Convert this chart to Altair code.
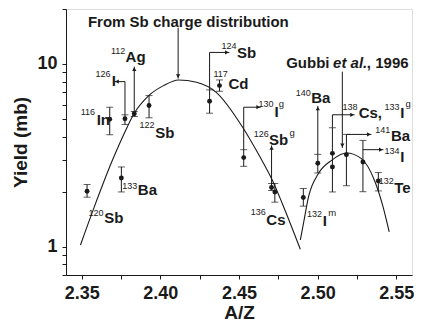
import altair as alt
import pandas as pd

FONT = "Liberation Sans"
INK = "#1a1a1a"

# ---- measured data points (A/Z, yield in mb) with error bar ends ----
pt_x = [2.3534, 2.3678, 2.3752, 2.3775, 2.3834, 2.3928, 2.4313, 2.4376, 2.4530,
        2.4707, 2.4728, 2.4909, 2.5001, 2.5094, 2.5094, 2.5183, 2.5288, 2.5386]
pt_y = [2.012, 4.988, 2.378, 5.013, 5.339, 5.925, 6.254, 7.615, 3.073,
        2.108, 1.994, 1.860, 2.860, 3.243, 2.731, 3.190, 2.908, 2.291]
pt_lo = [1.866, 4.10, 1.994, 4.667, 5.16, 5.077, 5.379, 7.09, 2.754,
         2.030, 1.753, 1.667, 2.533, 1.994, None, 2.157, 2.0, 2.020]
pt_hi = [2.189, 5.80, 2.731, 5.27, 5.495, 6.716, 7.216, 8.18, 3.397,
         2.217, 2.217, 2.082, 3.202, 4.478, None, 4.117, 3.818, 2.545]

# ---- fitted curves ----
sb_x = [2.3492, 2.3580, 2.3695, 2.3779, 2.3832, 2.3926, 2.4020, 2.4115, 2.4230,
        2.4355, 2.4523, 2.4628, 2.4712, 2.4775, 2.4890]
sb_y = [1.022, 1.652, 2.970, 4.328, 5.339, 6.716, 7.615, 8.18, 7.94,
        7.00, 4.51, 3.162, 2.310, 1.725, 0.968]
gu_x = [2.4890, 2.4910, 2.4942, 2.5005, 2.5089, 2.5183, 2.5278, 2.5361, 2.5413, 2.5455]
gu_y = [1.088, 1.341, 1.874, 2.513, 2.970, 3.255, 3.034, 2.310, 1.688, 1.207]

# ---- annotation arrows: line segments and heads ----
seg_x1 = [2.4113, 2.5157, 2.3834, 2.3775, 2.3775, 2.4313, 2.4313, 2.4530, 2.4530,
          2.4707, 2.5001, 2.5094, 2.5094, 2.5183, 2.5288]
seg_y1 = [15.77, 9.08, 5.339, 5.27, 8.009, 7.216, 11.57, 3.397, 5.80,
          2.108, 3.202, 4.478, 5.272, 4.117, 3.397]
seg_x2 = [2.4113, 2.5157, 2.3834, 2.3775, 2.3708, 2.4313, 2.4439, 2.4530, 2.4638,
          2.4707, 2.5001, 2.5094, 2.5235, 2.5342, 2.5418]
seg_y2 = [8.316, 3.474, 9.67, 8.009, 8.009, 11.57, 11.57, 5.80, 5.80,
          3.585, 5.888, 5.272, 5.272, 4.117, 3.397]
head_x = [2.4113, 2.5157, 2.3834, 2.3724, 2.4423, 2.4622, 2.4707, 2.5001, 2.5219, 2.5326, 2.5402]
head_y = [8.58, 3.585, 9.37, 8.009, 11.57, 5.80, 3.474, 5.705, 5.272, 4.117, 3.397]
head_shape = ["triangle-down", "triangle-down", "triangle-up", "triangle-left", "triangle-right",
              "triangle-right", "triangle-up", "triangle-up", "triangle-right", "triangle-right",
              "triangle-right"]

# ---- labels: element symbols (big bold), left edge ----
el_text = ["In", "I", "Ag", "Sb", "Sb", "Ba", "Sb", "Cd", "I", "Sb", "Cs", "I",
           "Ba", "Cs,", "I", "Ba", "I", "Te"]
el_x = [2.3595, 2.3691, 2.3779, 2.3968, 2.3643, 2.3857, 2.4487, 2.4433, 2.4726, 2.4690,
        2.4674, 2.5032, 2.4959, 2.5261, 2.5525, 2.5466, 2.5525, 2.5487]
el_y = [4.926, 8.059, 10.89, 4.169, 1.434, 2.043, 11.48, 7.807, 5.461, 3.818,
        1.402, 1.390, 6.494, 5.406, 5.406, 4.030, 3.103, 2.084]

# ---- labels: mass numbers (small, right edge) ----
mass_text = ["116", "126", "112", "122", "120", "133", "124", "117", "130", "126",
             "136", "132", "140", "138", "133", "141", "134", "132"]
mass_x = [2.3585, 2.3683, 2.3777, 2.3963, 2.3639, 2.3853, 2.4484, 2.4429, 2.4720, 2.4689,
          2.4670, 2.5028, 2.4956, 2.5254, 2.5521, 2.5462, 2.5521, 2.5484]
mass_y = [5.482, 8.831, 11.85, 4.638, 1.523, 2.157, 12.51, 8.764, 6.015, 4.127,
          1.542, 1.517, 6.957, 5.813, 5.813, 4.340, 3.346, 2.296]

# ---- labels: isomer marks (small, left edge) ----
iso_text = ["g", "g", "m", "g"]
iso_x = [2.4753, 2.4821, 2.5068, 2.5559]
iso_y = [6.015, 4.178, 1.521, 6.067]

# ---- source captions ----
cap_text = ["From Sb charge distribution", "Gubbi", "et al.", ", 1996"]
cap_x = [2.4178, 2.4800, 2.5098, 2.5313]
cap_y = [17.01, 10.08, 10.08, 10.08]
cap_align = ["center", "left", "left", "left"]
cap_style = ["normal", "normal", "italic", "normal"]

x_ticks = [2.35, 2.375, 2.40, 2.425, 2.45, 2.475, 2.50, 2.525, 2.55]
y_ticks = [0.7, 0.8, 0.9, 1, 2, 3, 4, 5, 6, 7, 8, 9, 10, 20]

xs = alt.Scale(domain=[2.34, 2.56], nice=False, zero=False)
ys = alt.Scale(type="log", domain=[0.7, 20], nice=False)

x_axis = alt.Axis(
    values=x_ticks, title="A/Z", grid=False,
    labelExpr="abs(datum.value*20 - round(datum.value*20)) < 0.001 ? format(datum.value, '.2f') : ''",
    labelFont=FONT, labelFontSize=18, labelFontWeight="bold", labelColor=INK,
    titleFont=FONT, titleFontSize=19, titleFontWeight="bold", titleColor=INK,
    tickSize=4, tickColor=INK, domainColor=INK, labelPadding=5, titlePadding=1,
    labelFlush=False, labelOverlap=False,
)
y_axis = alt.Axis(
    values=y_ticks, title="Yield (mb)", grid=False,
    labelExpr="datum.value == 1 || datum.value == 10 ? format(datum.value, 'd') : ''",
    labelFont=FONT, labelFontSize=18, labelFontWeight="bold", labelColor=INK,
    titleFont=FONT, titleFontSize=19, titleFontWeight="bold", titleColor=INK,
    tickSize=4, tickColor=INK, domainColor=INK, labelPadding=5, titlePadding=6,
    labelOverlap=False,
)


def X(field):
    return alt.X(field, type="quantitative", scale=xs, axis=x_axis)


def Y(field):
    return alt.Y(field, type="quantitative", scale=ys, axis=y_axis)


pts = pd.DataFrame({"x": pt_x, "y": pt_y, "lo": pt_lo, "hi": pt_hi})
curves = pd.concat([
    pd.DataFrame({"x": sb_x, "y": sb_y, "c": "sb"}),
    pd.DataFrame({"x": gu_x, "y": gu_y, "c": "gu"}),
])
segs = pd.DataFrame({"x1": seg_x1, "y1": seg_y1, "x2": seg_x2, "y2": seg_y2})
heads = pd.DataFrame({"x": head_x, "y": head_y, "s": head_shape})
els = pd.DataFrame({"x": el_x, "y": el_y, "t": el_text})
masses = pd.DataFrame({"x": mass_x, "y": mass_y, "t": mass_text})
isos = pd.DataFrame({"x": iso_x, "y": iso_y, "t": iso_text})
caps = pd.DataFrame({"x": cap_x, "y": cap_y, "t": cap_text, "a": cap_align, "st": cap_style})

curve_layer = alt.Chart(curves).mark_line(
    interpolate="monotone", color=INK, strokeWidth=1.1
).encode(x=X("x"), y=Y("y"), detail="c:N")

err_layer = alt.Chart(pts).transform_filter("isValid(datum.lo)").mark_rule(
    color=INK, strokeWidth=1
).encode(x=X("x"), y=Y("lo"), y2="hi")

cap_layer = alt.Chart(pts).transform_filter("isValid(datum.lo)").transform_fold(
    ["lo", "hi"], as_=["k", "v"]
).mark_tick(orient="horizontal", size=7, thickness=1, color=INK).encode(x=X("x"), y=Y("v"))

dot_layer = alt.Chart(pts).mark_circle(size=24, color=INK, opacity=1).encode(x=X("x"), y=Y("y"))

seg_layer = alt.Chart(segs).mark_rule(color=INK, strokeWidth=1).encode(
    x=X("x1"), y=Y("y1"), x2="x2", y2="y2")

head_layer = alt.Chart(heads).mark_point(filled=True, size=18, color=INK, opacity=1).encode(
    x=X("x"), y=Y("y"), shape=alt.Shape("s:N", scale=None))

el_layer = alt.Chart(els).mark_text(
    align="left", baseline="middle", font=FONT, fontSize=15, fontWeight="bold", color=INK
).encode(x=X("x"), y=Y("y"), text="t:N")

mass_layer = alt.Chart(masses).mark_text(
    align="right", baseline="middle", font=FONT, fontSize=9, color=INK
).encode(x=X("x"), y=Y("y"), text="t:N")

iso_layer = alt.Chart(isos).mark_text(
    align="left", baseline="middle", font=FONT, fontSize=9.5, color=INK
).encode(x=X("x"), y=Y("y"), text="t:N")

cap_main = alt.Chart(caps).transform_filter("datum.a == 'center'").mark_text(
    align="center", baseline="middle", font=FONT, fontSize=15, fontWeight="bold", color=INK
).encode(x=X("x"), y=Y("y"), text="t:N")

cap_norm = alt.Chart(caps).transform_filter("datum.a == 'left' && datum.st == 'normal'").mark_text(
    align="left", baseline="middle", font=FONT, fontSize=15, fontWeight="bold", color=INK
).encode(x=X("x"), y=Y("y"), text="t:N")

cap_ital = alt.Chart(caps).transform_filter("datum.st == 'italic'").mark_text(
    align="left", baseline="middle", font=FONT, fontSize=15, fontWeight="bold",
    fontStyle="italic", color=INK
).encode(x=X("x"), y=Y("y"), text="t:N")

chart = alt.layer(
    curve_layer, err_layer, cap_layer, dot_layer, seg_layer, head_layer,
    el_layer, mass_layer, iso_layer, cap_main, cap_norm, cap_ital
).properties(
    width=346, height=266,
    autosize=alt.AutoSizeParams(type="none"),
    padding={"left": 58, "top": 1, "right": 2, "bottom": 50},
).configure_view(
    stroke=INK, strokeWidth=1
).configure(background="white")

chart.save("out.html", embed_options={"renderer": "svg", "actions": False})
